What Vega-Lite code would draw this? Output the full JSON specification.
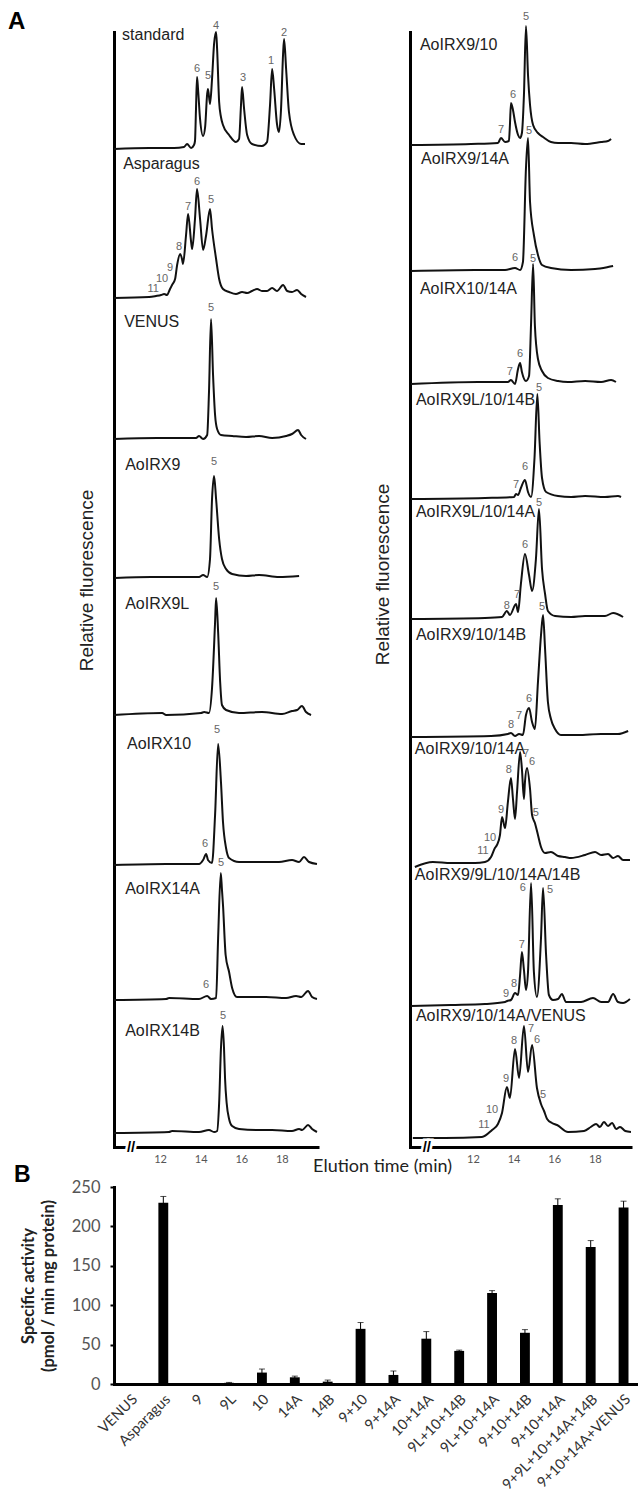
{
"$schema":"https://vega.github.io/schema/vega-lite/v6.json",
"background":"white",
"padding":{"left":8,"top":9,"right":0,"bottom":0},
"config":{"view":{"stroke":null},"font":"Liberation Sans","axis":{"grid":false}},
"datasets":{
"tr":[
{"s":"standard","t":9.73,"v":0},{"s":"standard","t":11.46,"v":1},{"s":"standard","t":12.69,"v":1},{"s":"standard","t":13.18,"v":2},{"s":"standard","t":13.33,"v":5},{"s":"standard","t":13.53,"v":1},{"s":"standard","t":13.67,"v":4},{"s":"standard","t":13.72,"v":8},{"s":"standard","t":13.77,"v":40},{"s":"standard","t":13.82,"v":72},{"s":"standard","t":13.87,"v":60},{"s":"standard","t":13.97,"v":30},{"s":"standard","t":14.12,"v":13},{"s":"standard","t":14.22,"v":22},{"s":"standard","t":14.32,"v":55},{"s":"standard","t":14.36,"v":60},{"s":"standard","t":14.46,"v":45},{"s":"standard","t":14.56,"v":70},{"s":"standard","t":14.66,"v":105},{"s":"standard","t":14.76,"v":117},{"s":"standard","t":14.81,"v":100},{"s":"standard","t":14.91,"v":47},{"s":"standard","t":15.0,"v":32},{"s":"standard","t":15.1,"v":24},{"s":"standard","t":15.4,"v":14},{"s":"standard","t":15.74,"v":7},{"s":"standard","t":15.89,"v":10},{"s":"standard","t":15.99,"v":45},{"s":"standard","t":16.04,"v":62},{"s":"standard","t":16.14,"v":40},{"s":"standard","t":16.29,"v":14},{"s":"standard","t":16.53,"v":5},{"s":"standard","t":17.02,"v":3},{"s":"standard","t":17.27,"v":7},{"s":"standard","t":17.42,"v":45},{"s":"standard","t":17.52,"v":80},{"s":"standard","t":17.62,"v":60},{"s":"standard","t":17.76,"v":25},{"s":"standard","t":17.86,"v":17},{"s":"standard","t":17.96,"v":40},{"s":"standard","t":18.06,"v":95},{"s":"standard","t":18.11,"v":110},{"s":"standard","t":18.21,"v":80},{"s":"standard","t":18.35,"v":37},{"s":"standard","t":18.6,"v":14},{"s":"standard","t":18.95,"v":5},{"s":"standard","t":19.14,"v":5},
{"s":"Asparagus","t":9.73,"v":0},{"s":"Asparagus","t":11.46,"v":1},{"s":"Asparagus","t":11.8,"v":2},{"s":"Asparagus","t":12.05,"v":3},{"s":"Asparagus","t":12.2,"v":4},{"s":"Asparagus","t":12.34,"v":3},{"s":"Asparagus","t":12.49,"v":9},{"s":"Asparagus","t":12.59,"v":13},{"s":"Asparagus","t":12.74,"v":19},{"s":"Asparagus","t":12.84,"v":33},{"s":"Asparagus","t":12.99,"v":44},{"s":"Asparagus","t":13.08,"v":39},{"s":"Asparagus","t":13.13,"v":34},{"s":"Asparagus","t":13.28,"v":63},{"s":"Asparagus","t":13.38,"v":84},{"s":"Asparagus","t":13.53,"v":56},{"s":"Asparagus","t":13.58,"v":49},{"s":"Asparagus","t":13.72,"v":79},{"s":"Asparagus","t":13.82,"v":109},{"s":"Asparagus","t":13.97,"v":79},{"s":"Asparagus","t":14.12,"v":48},{"s":"Asparagus","t":14.27,"v":63},{"s":"Asparagus","t":14.46,"v":89},{"s":"Asparagus","t":14.56,"v":69},{"s":"Asparagus","t":14.76,"v":39},{"s":"Asparagus","t":14.91,"v":19},{"s":"Asparagus","t":15.1,"v":9},{"s":"Asparagus","t":15.4,"v":6},{"s":"Asparagus","t":15.74,"v":4},{"s":"Asparagus","t":16.04,"v":6},{"s":"Asparagus","t":16.29,"v":5},{"s":"Asparagus","t":16.53,"v":7},{"s":"Asparagus","t":16.78,"v":9},{"s":"Asparagus","t":17.02,"v":7},{"s":"Asparagus","t":17.27,"v":7},{"s":"Asparagus","t":17.52,"v":10},{"s":"Asparagus","t":17.76,"v":7},{"s":"Asparagus","t":18.06,"v":13},{"s":"Asparagus","t":18.26,"v":7},{"s":"Asparagus","t":18.5,"v":6},{"s":"Asparagus","t":18.75,"v":8},{"s":"Asparagus","t":18.95,"v":4},{"s":"Asparagus","t":19.19,"v":1},
{"s":"VENUS","t":9.73,"v":0},{"s":"VENUS","t":11.85,"v":1},{"s":"VENUS","t":13.77,"v":1},{"s":"VENUS","t":13.92,"v":3},{"s":"VENUS","t":14.12,"v":0},{"s":"VENUS","t":14.32,"v":4},{"s":"VENUS","t":14.41,"v":47},{"s":"VENUS","t":14.51,"v":120},{"s":"VENUS","t":14.61,"v":64},{"s":"VENUS","t":14.71,"v":24},{"s":"VENUS","t":14.81,"v":10},{"s":"VENUS","t":15.0,"v":4},{"s":"VENUS","t":15.55,"v":3},{"s":"VENUS","t":16.24,"v":2},{"s":"VENUS","t":16.88,"v":3},{"s":"VENUS","t":17.52,"v":1},{"s":"VENUS","t":18.21,"v":3},{"s":"VENUS","t":18.5,"v":5},{"s":"VENUS","t":18.8,"v":9},{"s":"VENUS","t":18.95,"v":4},{"s":"VENUS","t":19.19,"v":0},
{"s":"AoIRX9","t":9.78,"v":0},{"s":"AoIRX9","t":11.56,"v":1},{"s":"AoIRX9","t":13.92,"v":1},{"s":"AoIRX9","t":14.12,"v":3},{"s":"AoIRX9","t":14.32,"v":1},{"s":"AoIRX9","t":14.46,"v":19},{"s":"AoIRX9","t":14.56,"v":79},{"s":"AoIRX9","t":14.66,"v":102},{"s":"AoIRX9","t":14.76,"v":79},{"s":"AoIRX9","t":14.91,"v":39},{"s":"AoIRX9","t":15.05,"v":19},{"s":"AoIRX9","t":15.25,"v":9},{"s":"AoIRX9","t":15.55,"v":4},{"s":"AoIRX9","t":16.24,"v":2},{"s":"AoIRX9","t":16.88,"v":3},{"s":"AoIRX9","t":17.86,"v":1},{"s":"AoIRX9","t":18.85,"v":2},
{"s":"AoIRX9L","t":9.73,"v":0},{"s":"AoIRX9L","t":12.1,"v":2},{"s":"AoIRX9L","t":12.3,"v":0},{"s":"AoIRX9L","t":14.02,"v":2},{"s":"AoIRX9L","t":14.17,"v":3},{"s":"AoIRX9L","t":14.41,"v":2},{"s":"AoIRX9L","t":14.56,"v":27},{"s":"AoIRX9L","t":14.71,"v":93},{"s":"AoIRX9L","t":14.76,"v":117},{"s":"AoIRX9L","t":14.86,"v":83},{"s":"AoIRX9L","t":14.96,"v":33},{"s":"AoIRX9L","t":15.05,"v":10},{"s":"AoIRX9L","t":15.25,"v":5},{"s":"AoIRX9L","t":15.89,"v":2},{"s":"AoIRX9L","t":17.02,"v":3},{"s":"AoIRX9L","t":18.01,"v":1},{"s":"AoIRX9L","t":18.5,"v":4},{"s":"AoIRX9L","t":18.75,"v":5},{"s":"AoIRX9L","t":18.99,"v":9},{"s":"AoIRX9L","t":19.19,"v":3},{"s":"AoIRX9L","t":19.44,"v":0},
{"s":"AoIRX10","t":9.73,"v":0},{"s":"AoIRX10","t":12.3,"v":1},{"s":"AoIRX10","t":13.92,"v":1},{"s":"AoIRX10","t":14.12,"v":5},{"s":"AoIRX10","t":14.27,"v":11},{"s":"AoIRX10","t":14.36,"v":5},{"s":"AoIRX10","t":14.56,"v":2},{"s":"AoIRX10","t":14.71,"v":50},{"s":"AoIRX10","t":14.86,"v":121},{"s":"AoIRX10","t":15.0,"v":83},{"s":"AoIRX10","t":15.1,"v":43},{"s":"AoIRX10","t":15.25,"v":17},{"s":"AoIRX10","t":15.4,"v":7},{"s":"AoIRX10","t":15.89,"v":3},{"s":"AoIRX10","t":16.88,"v":3},{"s":"AoIRX10","t":17.86,"v":3},{"s":"AoIRX10","t":18.5,"v":5},{"s":"AoIRX10","t":18.85,"v":3},{"s":"AoIRX10","t":19.09,"v":8},{"s":"AoIRX10","t":19.34,"v":3},{"s":"AoIRX10","t":19.73,"v":1},
{"s":"AoIRX14A","t":9.73,"v":0},{"s":"AoIRX14A","t":12.3,"v":1},{"s":"AoIRX14A","t":12.44,"v":2},{"s":"AoIRX14A","t":13.92,"v":1},{"s":"AoIRX14A","t":14.32,"v":4},{"s":"AoIRX14A","t":14.51,"v":1},{"s":"AoIRX14A","t":14.76,"v":2},{"s":"AoIRX14A","t":14.86,"v":62},{"s":"AoIRX14A","t":14.99,"v":127},{"s":"AoIRX14A","t":15.05,"v":110},{"s":"AoIRX14A","t":15.1,"v":95},{"s":"AoIRX14A","t":15.23,"v":45},{"s":"AoIRX14A","t":15.4,"v":28},{"s":"AoIRX14A","t":15.55,"v":12},{"s":"AoIRX14A","t":15.79,"v":3},{"s":"AoIRX14A","t":16.53,"v":3},{"s":"AoIRX14A","t":17.22,"v":3},{"s":"AoIRX14A","t":18.21,"v":2},{"s":"AoIRX14A","t":18.7,"v":4},{"s":"AoIRX14A","t":18.95,"v":3},{"s":"AoIRX14A","t":19.29,"v":9},{"s":"AoIRX14A","t":19.49,"v":3},{"s":"AoIRX14A","t":19.73,"v":1},
{"s":"AoIRX14B","t":9.73,"v":0},{"s":"AoIRX14B","t":12.44,"v":1},{"s":"AoIRX14B","t":12.59,"v":2},{"s":"AoIRX14B","t":13.92,"v":1},{"s":"AoIRX14B","t":14.41,"v":3},{"s":"AoIRX14B","t":14.66,"v":1},{"s":"AoIRX14B","t":14.81,"v":2},{"s":"AoIRX14B","t":14.91,"v":30},{"s":"AoIRX14B","t":15.0,"v":85},{"s":"AoIRX14B","t":15.08,"v":107},{"s":"AoIRX14B","t":15.15,"v":85},{"s":"AoIRX14B","t":15.2,"v":55},{"s":"AoIRX14B","t":15.28,"v":30},{"s":"AoIRX14B","t":15.4,"v":14},{"s":"AoIRX14B","t":15.55,"v":7},{"s":"AoIRX14B","t":15.89,"v":4},{"s":"AoIRX14B","t":16.73,"v":3},{"s":"AoIRX14B","t":17.52,"v":3},{"s":"AoIRX14B","t":18.5,"v":2},{"s":"AoIRX14B","t":18.85,"v":4},{"s":"AoIRX14B","t":19.0,"v":3},{"s":"AoIRX14B","t":19.29,"v":8},{"s":"AoIRX14B","t":19.49,"v":4},{"s":"AoIRX14B","t":19.73,"v":1},
{"s":"AoIRX9/10","t":8.95,"v":0},{"s":"AoIRX9/10","t":11.9,"v":1},{"s":"AoIRX9/10","t":13.23,"v":2},{"s":"AoIRX9/10","t":13.38,"v":7},{"s":"AoIRX9/10","t":13.58,"v":3},{"s":"AoIRX9/10","t":13.77,"v":4},{"s":"AoIRX9/10","t":13.82,"v":20},{"s":"AoIRX9/10","t":13.87,"v":42},{"s":"AoIRX9/10","t":13.97,"v":35},{"s":"AoIRX9/10","t":14.07,"v":23},{"s":"AoIRX9/10","t":14.22,"v":10},{"s":"AoIRX9/10","t":14.32,"v":7},{"s":"AoIRX9/10","t":14.41,"v":12},{"s":"AoIRX9/10","t":14.51,"v":50},{"s":"AoIRX9/10","t":14.61,"v":119},{"s":"AoIRX9/10","t":14.71,"v":70},{"s":"AoIRX9/10","t":14.81,"v":40},{"s":"AoIRX9/10","t":14.96,"v":20},{"s":"AoIRX9/10","t":15.2,"v":12},{"s":"AoIRX9/10","t":15.45,"v":8},{"s":"AoIRX9/10","t":15.84,"v":3},{"s":"AoIRX9/10","t":16.19,"v":2},{"s":"AoIRX9/10","t":16.83,"v":2},{"s":"AoIRX9/10","t":17.52,"v":1},{"s":"AoIRX9/10","t":18.31,"v":3},{"s":"AoIRX9/10","t":18.65,"v":4},{"s":"AoIRX9/10","t":18.8,"v":6},
{"s":"AoIRX9/14A","t":8.95,"v":0},{"s":"AoIRX9/14A","t":12.1,"v":1},{"s":"AoIRX9/14A","t":13.58,"v":1},{"s":"AoIRX9/14A","t":14.07,"v":3},{"s":"AoIRX9/14A","t":14.32,"v":1},{"s":"AoIRX9/14A","t":14.46,"v":9},{"s":"AoIRX9/14A","t":14.61,"v":103},{"s":"AoIRX9/14A","t":14.71,"v":133},{"s":"AoIRX9/14A","t":14.81,"v":69},{"s":"AoIRX9/14A","t":15.0,"v":36},{"s":"AoIRX9/14A","t":15.2,"v":16},{"s":"AoIRX9/14A","t":15.4,"v":6},{"s":"AoIRX9/14A","t":15.84,"v":3},{"s":"AoIRX9/14A","t":16.83,"v":1},{"s":"AoIRX9/14A","t":18.01,"v":2},{"s":"AoIRX9/14A","t":18.65,"v":4},{"s":"AoIRX9/14A","t":18.9,"v":5},
{"s":"AoIRX10/14A","t":8.95,"v":0},{"s":"AoIRX10/14A","t":12.25,"v":2},{"s":"AoIRX10/14A","t":13.72,"v":2},{"s":"AoIRX10/14A","t":13.87,"v":4},{"s":"AoIRX10/14A","t":14.07,"v":0},{"s":"AoIRX10/14A","t":14.22,"v":15},{"s":"AoIRX10/14A","t":14.32,"v":21},{"s":"AoIRX10/14A","t":14.41,"v":12},{"s":"AoIRX10/14A","t":14.61,"v":3},{"s":"AoIRX10/14A","t":14.76,"v":8},{"s":"AoIRX10/14A","t":14.86,"v":60},{"s":"AoIRX10/14A","t":14.96,"v":120},{"s":"AoIRX10/14A","t":15.05,"v":58},{"s":"AoIRX10/14A","t":15.2,"v":25},{"s":"AoIRX10/14A","t":15.4,"v":13},{"s":"AoIRX10/14A","t":15.69,"v":6},{"s":"AoIRX10/14A","t":16.19,"v":3},{"s":"AoIRX10/14A","t":16.68,"v":2},{"s":"AoIRX10/14A","t":17.52,"v":3},{"s":"AoIRX10/14A","t":18.31,"v":2},{"s":"AoIRX10/14A","t":18.8,"v":4},{"s":"AoIRX10/14A","t":19.04,"v":2},
{"s":"AoIRX9L/10/14B","t":8.95,"v":0},{"s":"AoIRX9L/10/14B","t":12.59,"v":1},{"s":"AoIRX9L/10/14B","t":14.02,"v":2},{"s":"AoIRX9L/10/14B","t":14.12,"v":5},{"s":"AoIRX9L/10/14B","t":14.22,"v":4},{"s":"AoIRX9L/10/14B","t":14.36,"v":11},{"s":"AoIRX9L/10/14B","t":14.56,"v":19},{"s":"AoIRX9L/10/14B","t":14.71,"v":7},{"s":"AoIRX9L/10/14B","t":14.86,"v":2},{"s":"AoIRX9L/10/14B","t":15.03,"v":41},{"s":"AoIRX9L/10/14B","t":15.17,"v":105},{"s":"AoIRX9L/10/14B","t":15.28,"v":57},{"s":"AoIRX9L/10/14B","t":15.4,"v":21},{"s":"AoIRX9L/10/14B","t":15.6,"v":7},{"s":"AoIRX9L/10/14B","t":16.19,"v":3},{"s":"AoIRX9L/10/14B","t":16.83,"v":2},{"s":"AoIRX9L/10/14B","t":17.52,"v":3},{"s":"AoIRX9L/10/14B","t":18.5,"v":2},{"s":"AoIRX9L/10/14B","t":19.14,"v":3},{"s":"AoIRX9L/10/14B","t":19.29,"v":2},
{"s":"AoIRX9L/10/14A","t":8.95,"v":0},{"s":"AoIRX9L/10/14A","t":12.59,"v":1},{"s":"AoIRX9L/10/14A","t":13.43,"v":2},{"s":"AoIRX9L/10/14A","t":13.67,"v":8},{"s":"AoIRX9L/10/14A","t":13.82,"v":4},{"s":"AoIRX9L/10/14A","t":14.12,"v":15},{"s":"AoIRX9L/10/14A","t":14.22,"v":7},{"s":"AoIRX9L/10/14A","t":14.36,"v":35},{"s":"AoIRX9L/10/14A","t":14.56,"v":65},{"s":"AoIRX9L/10/14A","t":14.76,"v":44},{"s":"AoIRX9L/10/14A","t":14.91,"v":28},{"s":"AoIRX9L/10/14A","t":15.1,"v":60},{"s":"AoIRX9L/10/14A","t":15.25,"v":110},{"s":"AoIRX9L/10/14A","t":15.4,"v":50},{"s":"AoIRX9L/10/14A","t":15.55,"v":25},{"s":"AoIRX9L/10/14A","t":15.69,"v":8},{"s":"AoIRX9L/10/14A","t":16.04,"v":3},{"s":"AoIRX9L/10/14A","t":16.83,"v":2},{"s":"AoIRX9L/10/14A","t":17.52,"v":3},{"s":"AoIRX9L/10/14A","t":18.5,"v":3},{"s":"AoIRX9L/10/14A","t":18.9,"v":6},{"s":"AoIRX9L/10/14A","t":19.39,"v":2},
{"s":"AoIRX9/10/14B","t":8.95,"v":0},{"s":"AoIRX9/10/14B","t":12.89,"v":1},{"s":"AoIRX9/10/14B","t":13.72,"v":3},{"s":"AoIRX9/10/14B","t":13.87,"v":4},{"s":"AoIRX9/10/14B","t":14.07,"v":1},{"s":"AoIRX9/10/14B","t":14.27,"v":3},{"s":"AoIRX9/10/14B","t":14.46,"v":2},{"s":"AoIRX9/10/14B","t":14.61,"v":22},{"s":"AoIRX9/10/14B","t":14.76,"v":29},{"s":"AoIRX9/10/14B","t":14.91,"v":15},{"s":"AoIRX9/10/14B","t":15.05,"v":8},{"s":"AoIRX9/10/14B","t":15.2,"v":55},{"s":"AoIRX9/10/14B","t":15.35,"v":102},{"s":"AoIRX9/10/14B","t":15.45,"v":122},{"s":"AoIRX9/10/14B","t":15.55,"v":88},{"s":"AoIRX9/10/14B","t":15.69,"v":35},{"s":"AoIRX9/10/14B","t":15.84,"v":18},{"s":"AoIRX9/10/14B","t":16.04,"v":8},{"s":"AoIRX9/10/14B","t":16.33,"v":2},{"s":"AoIRX9/10/14B","t":17.17,"v":2},{"s":"AoIRX9/10/14B","t":18.31,"v":3},{"s":"AoIRX9/10/14B","t":19.14,"v":3},{"s":"AoIRX9/10/14B","t":19.64,"v":6},
{"s":"AoIRX9/10/14A","t":9.14,"v":-7},{"s":"AoIRX9/10/14A","t":10.03,"v":-2},{"s":"AoIRX9/10/14A","t":10.92,"v":-3},{"s":"AoIRX9/10/14A","t":12.1,"v":-3},{"s":"AoIRX9/10/14A","t":12.59,"v":-2},{"s":"AoIRX9/10/14A","t":12.89,"v":3},{"s":"AoIRX9/10/14A","t":13.08,"v":12},{"s":"AoIRX9/10/14A","t":13.18,"v":15},{"s":"AoIRX9/10/14A","t":13.33,"v":25},{"s":"AoIRX9/10/14A","t":13.43,"v":43},{"s":"AoIRX9/10/14A","t":13.58,"v":32},{"s":"AoIRX9/10/14A","t":13.72,"v":58},{"s":"AoIRX9/10/14A","t":13.87,"v":82},{"s":"AoIRX9/10/14A","t":13.97,"v":61},{"s":"AoIRX9/10/14A","t":14.07,"v":41},{"s":"AoIRX9/10/14A","t":14.17,"v":68},{"s":"AoIRX9/10/14A","t":14.32,"v":108},{"s":"AoIRX9/10/14A","t":14.41,"v":91},{"s":"AoIRX9/10/14A","t":14.51,"v":61},{"s":"AoIRX9/10/14A","t":14.56,"v":78},{"s":"AoIRX9/10/14A","t":14.66,"v":92},{"s":"AoIRX9/10/14A","t":14.81,"v":71},{"s":"AoIRX9/10/14A","t":14.91,"v":45},{"s":"AoIRX9/10/14A","t":15.05,"v":37},{"s":"AoIRX9/10/14A","t":15.2,"v":25},{"s":"AoIRX9/10/14A","t":15.35,"v":13},{"s":"AoIRX9/10/14A","t":15.55,"v":7},{"s":"AoIRX9/10/14A","t":15.84,"v":8},{"s":"AoIRX9/10/14A","t":16.19,"v":4},{"s":"AoIRX9/10/14A","t":16.53,"v":3},{"s":"AoIRX9/10/14A","t":16.83,"v":2},{"s":"AoIRX9/10/14A","t":17.52,"v":5},{"s":"AoIRX9/10/14A","t":18.01,"v":8},{"s":"AoIRX9/10/14A","t":18.31,"v":5},{"s":"AoIRX9/10/14A","t":18.65,"v":6},{"s":"AoIRX9/10/14A","t":18.9,"v":2},{"s":"AoIRX9/10/14A","t":19.14,"v":4},{"s":"AoIRX9/10/14A","t":19.39,"v":0},{"s":"AoIRX9/10/14A","t":19.73,"v":0},
{"s":"AoIRX9/9L/10/14A/14B","t":8.95,"v":-1},{"s":"AoIRX9/9L/10/14A/14B","t":10.92,"v":0},{"s":"AoIRX9/9L/10/14A/14B","t":12.59,"v":1},{"s":"AoIRX9/9L/10/14A/14B","t":13.58,"v":3},{"s":"AoIRX9/9L/10/14A/14B","t":13.68,"v":4},{"s":"AoIRX9/9L/10/14A/14B","t":13.87,"v":5},{"s":"AoIRX9/9L/10/14A/14B","t":14.07,"v":12},{"s":"AoIRX9/9L/10/14A/14B","t":14.22,"v":10},{"s":"AoIRX9/9L/10/14A/14B","t":14.32,"v":30},{"s":"AoIRX9/9L/10/14A/14B","t":14.41,"v":53},{"s":"AoIRX9/9L/10/14A/14B","t":14.51,"v":35},{"s":"AoIRX9/9L/10/14A/14B","t":14.61,"v":15},{"s":"AoIRX9/9L/10/14A/14B","t":14.71,"v":33},{"s":"AoIRX9/9L/10/14A/14B","t":14.86,"v":122},{"s":"AoIRX9/9L/10/14A/14B","t":15.0,"v":33},{"s":"AoIRX9/9L/10/14A/14B","t":15.15,"v":8},{"s":"AoIRX9/9L/10/14A/14B","t":15.35,"v":67},{"s":"AoIRX9/9L/10/14A/14B","t":15.45,"v":117},{"s":"AoIRX9/9L/10/14A/14B","t":15.6,"v":50},{"s":"AoIRX9/9L/10/14A/14B","t":15.74,"v":10},{"s":"AoIRX9/9L/10/14A/14B","t":15.94,"v":5},{"s":"AoIRX9/9L/10/14A/14B","t":16.19,"v":6},{"s":"AoIRX9/9L/10/14A/14B","t":16.38,"v":11},{"s":"AoIRX9/9L/10/14A/14B","t":16.58,"v":3},{"s":"AoIRX9/9L/10/14A/14B","t":17.32,"v":3},{"s":"AoIRX9/9L/10/14A/14B","t":17.91,"v":7},{"s":"AoIRX9/9L/10/14A/14B","t":18.31,"v":3},{"s":"AoIRX9/9L/10/14A/14B","t":18.65,"v":3},{"s":"AoIRX9/9L/10/14A/14B","t":18.9,"v":11},{"s":"AoIRX9/9L/10/14A/14B","t":19.14,"v":3},{"s":"AoIRX9/9L/10/14A/14B","t":19.39,"v":2},{"s":"AoIRX9/9L/10/14A/14B","t":19.73,"v":6},
{"s":"AoIRX9/10/14A/VENUS","t":9.04,"v":-5},{"s":"AoIRX9/10/14A/VENUS","t":10.62,"v":-5},{"s":"AoIRX9/10/14A/VENUS","t":12.44,"v":-4},{"s":"AoIRX9/10/14A/VENUS","t":12.94,"v":3},{"s":"AoIRX9/10/14A/VENUS","t":13.23,"v":9},{"s":"AoIRX9/10/14A/VENUS","t":13.43,"v":20},{"s":"AoIRX9/10/14A/VENUS","t":13.67,"v":46},{"s":"AoIRX9/10/14A/VENUS","t":13.82,"v":35},{"s":"AoIRX9/10/14A/VENUS","t":14.07,"v":84},{"s":"AoIRX9/10/14A/VENUS","t":14.27,"v":55},{"s":"AoIRX9/10/14A/VENUS","t":14.51,"v":107},{"s":"AoIRX9/10/14A/VENUS","t":14.71,"v":61},{"s":"AoIRX9/10/14A/VENUS","t":14.91,"v":88},{"s":"AoIRX9/10/14A/VENUS","t":15.15,"v":45},{"s":"AoIRX9/10/14A/VENUS","t":15.35,"v":29},{"s":"AoIRX9/10/14A/VENUS","t":15.5,"v":22},{"s":"AoIRX9/10/14A/VENUS","t":15.65,"v":14},{"s":"AoIRX9/10/14A/VENUS","t":15.89,"v":10},{"s":"AoIRX9/10/14A/VENUS","t":16.14,"v":8},{"s":"AoIRX9/10/14A/VENUS","t":16.68,"v":1},{"s":"AoIRX9/10/14A/VENUS","t":17.47,"v":2},{"s":"AoIRX9/10/14A/VENUS","t":17.8,"v":6},{"s":"AoIRX9/10/14A/VENUS","t":18.06,"v":9},{"s":"AoIRX9/10/14A/VENUS","t":18.25,"v":6},{"s":"AoIRX9/10/14A/VENUS","t":18.45,"v":11},{"s":"AoIRX9/10/14A/VENUS","t":18.65,"v":7},{"s":"AoIRX9/10/14A/VENUS","t":18.85,"v":10},{"s":"AoIRX9/10/14A/VENUS","t":19.05,"v":4},{"s":"AoIRX9/10/14A/VENUS","t":19.24,"v":6},{"s":"AoIRX9/10/14A/VENUS","t":19.5,"v":2},{"s":"AoIRX9/10/14A/VENUS","t":19.78,"v":1}
],
"pk":[
{"s":"standard","t":13.82,"v":80,"n":"6"},{"s":"standard","t":14.36,"v":73,"n":"5"},{"s":"standard","t":14.76,"v":123,"n":"4"},{"s":"standard","t":16.09,"v":71,"n":"3"},{"s":"standard","t":17.47,"v":88,"n":"1"},{"s":"standard","t":18.11,"v":116,"n":"2"},
{"s":"Asparagus","t":11.66,"v":9,"n":"11"},{"s":"Asparagus","t":12.1,"v":19,"n":"10"},{"s":"Asparagus","t":12.49,"v":30,"n":"9"},{"s":"Asparagus","t":12.94,"v":51,"n":"8"},{"s":"Asparagus","t":13.38,"v":91,"n":"7"},{"s":"Asparagus","t":13.82,"v":116,"n":"6"},{"s":"Asparagus","t":14.51,"v":98,"n":"5"},
{"s":"VENUS","t":14.51,"v":131,"n":"5"},
{"s":"AoIRX9","t":14.66,"v":116,"n":"5"},
{"s":"AoIRX9L","t":14.76,"v":128,"n":"5"},
{"s":"AoIRX10","t":14.22,"v":21,"n":"6"},{"s":"AoIRX10","t":14.81,"v":135,"n":"5"},
{"s":"AoIRX14A","t":14.27,"v":15,"n":"6"},{"s":"AoIRX14A","t":15.0,"v":137,"n":"5"},
{"s":"AoIRX14B","t":15.1,"v":117,"n":"5"},
{"s":"AoIRX9/10","t":13.38,"v":15,"n":"7"},{"s":"AoIRX9/10","t":13.97,"v":50,"n":"6"},{"s":"AoIRX9/10","t":14.61,"v":128,"n":"5"},
{"s":"AoIRX9/14A","t":14.07,"v":13,"n":"6"},{"s":"AoIRX9/14A","t":14.76,"v":140,"n":"5"},
{"s":"AoIRX10/14A","t":13.82,"v":12,"n":"7"},{"s":"AoIRX10/14A","t":14.32,"v":30,"n":"6"},{"s":"AoIRX10/14A","t":14.96,"v":125,"n":"5"},
{"s":"AoIRX9L/10/14B","t":14.12,"v":14,"n":"7"},{"s":"AoIRX9L/10/14B","t":14.56,"v":32,"n":"6"},{"s":"AoIRX9L/10/14B","t":15.25,"v":111,"n":"5"},
{"s":"AoIRX9L/10/14A","t":13.67,"v":13,"n":"8"},{"s":"AoIRX9L/10/14A","t":14.17,"v":24,"n":"7"},{"s":"AoIRX9L/10/14A","t":14.56,"v":74,"n":"6"},{"s":"AoIRX9L/10/14A","t":15.25,"v":116,"n":"5"},
{"s":"AoIRX9/10/14B","t":13.87,"v":12,"n":"8"},{"s":"AoIRX9/10/14B","t":14.27,"v":21,"n":"7"},{"s":"AoIRX9/10/14B","t":14.76,"v":38,"n":"6"},{"s":"AoIRX9/10/14B","t":15.4,"v":130,"n":"5"},
{"s":"AoIRX9/10/14A","t":12.49,"v":9,"n":"11"},{"s":"AoIRX9/10/14A","t":12.84,"v":22,"n":"10"},{"s":"AoIRX9/10/14A","t":13.38,"v":50,"n":"9"},{"s":"AoIRX9/10/14A","t":13.77,"v":90,"n":"8"},{"s":"AoIRX9/10/14A","t":14.61,"v":106,"n":"7"},{"s":"AoIRX9/10/14A","t":14.91,"v":98,"n":"6"},{"s":"AoIRX9/10/14A","t":15.1,"v":47,"n":"5"},
{"s":"AoIRX9/9L/10/14A/14B","t":13.63,"v":11,"n":"9"},{"s":"AoIRX9/9L/10/14A/14B","t":14.02,"v":21,"n":"8"},{"s":"AoIRX9/9L/10/14A/14B","t":14.41,"v":60,"n":"7"},{"s":"AoIRX9/9L/10/14A/14B","t":14.46,"v":117,"n":"6"},{"s":"AoIRX9/9L/10/14A/14B","t":15.79,"v":115,"n":"5"},
{"s":"AoIRX9/10/14A/VENUS","t":12.54,"v":8,"n":"11"},{"s":"AoIRX9/10/14A/VENUS","t":12.94,"v":23,"n":"10"},{"s":"AoIRX9/10/14A/VENUS","t":13.63,"v":54,"n":"9"},{"s":"AoIRX9/10/14A/VENUS","t":14.02,"v":92,"n":"8"},{"s":"AoIRX9/10/14A/VENUS","t":14.86,"v":104,"n":"7"},{"s":"AoIRX9/10/14A/VENUS","t":15.15,"v":93,"n":"6"},{"s":"AoIRX9/10/14A/VENUS","t":15.45,"v":38,"n":"5"}
],
"nm":[
{"s":"standard","t":10.13,"v":114},{"s":"Asparagus","t":10.18,"v":134},{"s":"VENUS","t":10.23,"v":117},{"s":"AoIRX9","t":10.28,"v":113},{"s":"AoIRX9L","t":10.28,"v":111},{"s":"AoIRX10","t":10.37,"v":121},{"s":"AoIRX14A","t":10.28,"v":111},{"s":"AoIRX14B","t":10.28,"v":102},
{"s":"AoIRX9/10","t":9.39,"v":100},{"s":"AoIRX9/14A","t":9.44,"v":112},{"s":"AoIRX10/14A","t":9.39,"v":95},{"s":"AoIRX9L/10/14B","t":9.19,"v":99},{"s":"AoIRX9L/10/14A","t":9.19,"v":107},{"s":"AoIRX9/10/14B","t":9.19,"v":102},{"s":"AoIRX9/10/14A","t":9.14,"v":111},{"s":"AoIRX9/9L/10/14A/14B","t":9.14,"v":130},{"s":"AoIRX9/10/14A/VENUS","t":9.19,"v":117}
],
"brk":[{"c":"L","t":10.57,"v":-14},{"c":"R","t":9.73,"v":-14}],
"bars":[
{"cat":"VENUS","val":0,"lo":0,"hi":0},{"cat":"Asparagus","val":230,"lo":222,"hi":238},{"cat":"9","val":0,"lo":0,"hi":0},{"cat":"9L","val":1.5,"lo":1,"hi":2},{"cat":"10","val":14.5,"lo":10,"hi":19},{"cat":"14A","val":8.5,"lo":7,"hi":10},{"cat":"14B","val":3,"lo":1,"hi":5},{"cat":"9+10","val":70,"lo":62,"hi":78},{"cat":"9+14A","val":11.5,"lo":6.5,"hi":16.5},{"cat":"10+14A","val":57.5,"lo":48.5,"hi":66.5},{"cat":"9L+10+14B","val":42,"lo":41,"hi":43},{"cat":"9L+10+14A","val":115.5,"lo":112.5,"hi":118.5},{"cat":"9+10+14B","val":65,"lo":61,"hi":69},{"cat":"9+10+14A","val":227,"lo":219,"hi":235},{"cat":"9+9L+10+14A+14B","val":174,"lo":166,"hi":182},{"cat":"9+10+14A+VENUS","val":224,"lo":216,"hi":232}
]
},
"vconcat":[
{"hconcat":[
{"width":205,"height":1115,
"title":{"text":"A","anchor":"start","frame":"group","dx":-106,"offset":-14,"fontSize":24,"fontWeight":"bold","font":"Liberation Sans","color":"#000"},
"encoding":{"x":{"field":"t","type":"quantitative","scale":{"domain":[9.73,19.83],"nice":false,"zero":false},"axis":{"values":[12,14,16,18],"ticks":false,"tickSize":0,"domainWidth":3,"domainColor":"#000","labelFont":"Lato","labelFontSize":11,"labelColor":"#555","labelPadding":6,"title":null,"grid":false}}},
"resolve":{"scale":{"y":"independent"}},
"layer":[
{"layer":[
{"data":{"name":"tr"},"transform":[{"filter":"datum.s==='standard'"}],"mark":{"type":"line","color":"#111","strokeWidth":2,"interpolate":"monotone"},"encoding":{"y":{"field":"v","type":"quantitative","scale":{"domain":[-998,117],"nice":false,"zero":false},"axis":{"domain":true,"domainWidth":3,"domainColor":"#000","domainCap":"square","labels":false,"ticks":false,"tickSize":0,"grid":false,"title":"Relative fluorescence","titleFont":"Liberation Sans","titleFontSize":19,"titleFontWeight":"normal","titleColor":"#222","titlePadding":18,"titleY":548}}}},
{"data":{"name":"pk"},"transform":[{"filter":"datum.s==='standard'"}],"mark":{"type":"text","font":"Liberation Sans","fontSize":11,"color":"#666"},"encoding":{"y":{"field":"v","type":"quantitative","scale":{"domain":[-998,117],"nice":false,"zero":false},"axis":{"domain":true,"domainWidth":3,"domainColor":"#000","domainCap":"square","labels":false,"ticks":false,"tickSize":0,"grid":false,"title":"Relative fluorescence","titleFont":"Liberation Sans","titleFontSize":19,"titleFontWeight":"normal","titleColor":"#222","titlePadding":18,"titleY":548}},"text":{"field":"n","type":"nominal"}}},
{"data":{"name":"nm"},"transform":[{"filter":"datum.s==='standard'"}],"mark":{"type":"text","font":"Liberation Sans","fontSize":16,"color":"#222","align":"left"},"encoding":{"y":{"field":"v","type":"quantitative","scale":{"domain":[-998,117],"nice":false,"zero":false},"axis":{"domain":true,"domainWidth":3,"domainColor":"#000","domainCap":"square","labels":false,"ticks":false,"tickSize":0,"grid":false,"title":"Relative fluorescence","titleFont":"Liberation Sans","titleFontSize":19,"titleFontWeight":"normal","titleColor":"#222","titlePadding":18,"titleY":548}},"text":{"field":"s","type":"nominal"}}}
]},
{"layer":[
{"data":{"name":"tr"},"transform":[{"filter":"datum.s==='Asparagus'"}],"mark":{"type":"line","color":"#111","strokeWidth":2,"interpolate":"monotone"},"encoding":{"y":{"field":"v","type":"quantitative","scale":{"domain":[-849,266],"nice":false,"zero":false},"axis":null}}},
{"data":{"name":"pk"},"transform":[{"filter":"datum.s==='Asparagus'"}],"mark":{"type":"text","font":"Liberation Sans","fontSize":11,"color":"#666"},"encoding":{"y":{"field":"v","type":"quantitative","scale":{"domain":[-849,266],"nice":false,"zero":false},"axis":null},"text":{"field":"n","type":"nominal"}}},
{"data":{"name":"nm"},"transform":[{"filter":"datum.s==='Asparagus'"}],"mark":{"type":"text","font":"Liberation Sans","fontSize":16,"color":"#222","align":"left"},"encoding":{"y":{"field":"v","type":"quantitative","scale":{"domain":[-849,266],"nice":false,"zero":false},"axis":null},"text":{"field":"s","type":"nominal"}}}
]},
{"layer":[
{"data":{"name":"tr"},"transform":[{"filter":"datum.s==='VENUS'"}],"mark":{"type":"line","color":"#111","strokeWidth":2,"interpolate":"monotone"},"encoding":{"y":{"field":"v","type":"quantitative","scale":{"domain":[-708,407],"nice":false,"zero":false},"axis":null}}},
{"data":{"name":"pk"},"transform":[{"filter":"datum.s==='VENUS'"}],"mark":{"type":"text","font":"Liberation Sans","fontSize":11,"color":"#666"},"encoding":{"y":{"field":"v","type":"quantitative","scale":{"domain":[-708,407],"nice":false,"zero":false},"axis":null},"text":{"field":"n","type":"nominal"}}},
{"data":{"name":"nm"},"transform":[{"filter":"datum.s==='VENUS'"}],"mark":{"type":"text","font":"Liberation Sans","fontSize":16,"color":"#222","align":"left"},"encoding":{"y":{"field":"v","type":"quantitative","scale":{"domain":[-708,407],"nice":false,"zero":false},"axis":null},"text":{"field":"s","type":"nominal"}}}
]},
{"layer":[
{"data":{"name":"tr"},"transform":[{"filter":"datum.s==='AoIRX9'"}],"mark":{"type":"line","color":"#111","strokeWidth":2,"interpolate":"monotone"},"encoding":{"y":{"field":"v","type":"quantitative","scale":{"domain":[-569,546],"nice":false,"zero":false},"axis":null}}},
{"data":{"name":"pk"},"transform":[{"filter":"datum.s==='AoIRX9'"}],"mark":{"type":"text","font":"Liberation Sans","fontSize":11,"color":"#666"},"encoding":{"y":{"field":"v","type":"quantitative","scale":{"domain":[-569,546],"nice":false,"zero":false},"axis":null},"text":{"field":"n","type":"nominal"}}},
{"data":{"name":"nm"},"transform":[{"filter":"datum.s==='AoIRX9'"}],"mark":{"type":"text","font":"Liberation Sans","fontSize":16,"color":"#222","align":"left"},"encoding":{"y":{"field":"v","type":"quantitative","scale":{"domain":[-569,546],"nice":false,"zero":false},"axis":null},"text":{"field":"s","type":"nominal"}}}
]},
{"layer":[
{"data":{"name":"tr"},"transform":[{"filter":"datum.s==='AoIRX9L'"}],"mark":{"type":"line","color":"#111","strokeWidth":2,"interpolate":"monotone"},"encoding":{"y":{"field":"v","type":"quantitative","scale":{"domain":[-432,683],"nice":false,"zero":false},"axis":null}}},
{"data":{"name":"pk"},"transform":[{"filter":"datum.s==='AoIRX9L'"}],"mark":{"type":"text","font":"Liberation Sans","fontSize":11,"color":"#666"},"encoding":{"y":{"field":"v","type":"quantitative","scale":{"domain":[-432,683],"nice":false,"zero":false},"axis":null},"text":{"field":"n","type":"nominal"}}},
{"data":{"name":"nm"},"transform":[{"filter":"datum.s==='AoIRX9L'"}],"mark":{"type":"text","font":"Liberation Sans","fontSize":16,"color":"#222","align":"left"},"encoding":{"y":{"field":"v","type":"quantitative","scale":{"domain":[-432,683],"nice":false,"zero":false},"axis":null},"text":{"field":"s","type":"nominal"}}}
]},
{"layer":[
{"data":{"name":"tr"},"transform":[{"filter":"datum.s==='AoIRX10'"}],"mark":{"type":"line","color":"#111","strokeWidth":2,"interpolate":"monotone"},"encoding":{"y":{"field":"v","type":"quantitative","scale":{"domain":[-282,833],"nice":false,"zero":false},"axis":null}}},
{"data":{"name":"pk"},"transform":[{"filter":"datum.s==='AoIRX10'"}],"mark":{"type":"text","font":"Liberation Sans","fontSize":11,"color":"#666"},"encoding":{"y":{"field":"v","type":"quantitative","scale":{"domain":[-282,833],"nice":false,"zero":false},"axis":null},"text":{"field":"n","type":"nominal"}}},
{"data":{"name":"nm"},"transform":[{"filter":"datum.s==='AoIRX10'"}],"mark":{"type":"text","font":"Liberation Sans","fontSize":16,"color":"#222","align":"left"},"encoding":{"y":{"field":"v","type":"quantitative","scale":{"domain":[-282,833],"nice":false,"zero":false},"axis":null},"text":{"field":"s","type":"nominal"}}}
]},
{"layer":[
{"data":{"name":"tr"},"transform":[{"filter":"datum.s==='AoIRX14A'"}],"mark":{"type":"line","color":"#111","strokeWidth":2,"interpolate":"monotone"},"encoding":{"y":{"field":"v","type":"quantitative","scale":{"domain":[-147,968],"nice":false,"zero":false},"axis":null}}},
{"data":{"name":"pk"},"transform":[{"filter":"datum.s==='AoIRX14A'"}],"mark":{"type":"text","font":"Liberation Sans","fontSize":11,"color":"#666"},"encoding":{"y":{"field":"v","type":"quantitative","scale":{"domain":[-147,968],"nice":false,"zero":false},"axis":null},"text":{"field":"n","type":"nominal"}}},
{"data":{"name":"nm"},"transform":[{"filter":"datum.s==='AoIRX14A'"}],"mark":{"type":"text","font":"Liberation Sans","fontSize":16,"color":"#222","align":"left"},"encoding":{"y":{"field":"v","type":"quantitative","scale":{"domain":[-147,968],"nice":false,"zero":false},"axis":null},"text":{"field":"s","type":"nominal"}}}
]},
{"layer":[
{"data":{"name":"tr"},"transform":[{"filter":"datum.s==='AoIRX14B'"}],"mark":{"type":"line","color":"#111","strokeWidth":2,"interpolate":"monotone"},"encoding":{"y":{"field":"v","type":"quantitative","scale":{"domain":[-14,1101],"nice":false,"zero":false},"axis":null}}},
{"data":{"name":"pk"},"transform":[{"filter":"datum.s==='AoIRX14B'"}],"mark":{"type":"text","font":"Liberation Sans","fontSize":11,"color":"#666"},"encoding":{"y":{"field":"v","type":"quantitative","scale":{"domain":[-14,1101],"nice":false,"zero":false},"axis":null},"text":{"field":"n","type":"nominal"}}},
{"data":{"name":"nm"},"transform":[{"filter":"datum.s==='AoIRX14B'"}],"mark":{"type":"text","font":"Liberation Sans","fontSize":16,"color":"#222","align":"left"},"encoding":{"y":{"field":"v","type":"quantitative","scale":{"domain":[-14,1101],"nice":false,"zero":false},"axis":null},"text":{"field":"s","type":"nominal"}}},
{"data":{"name":"brk"},"transform":[{"filter":"datum.c==='L'"}],"mark":{"type":"text","text":"//","font":"Liberation Sans","fontSize":15,"fontWeight":"bold","color":"#fff","stroke":"#fff","strokeWidth":5},"encoding":{"y":{"field":"v","type":"quantitative","scale":{"domain":[-14,1101],"nice":false,"zero":false},"axis":null}}},
{"data":{"name":"brk"},"transform":[{"filter":"datum.c==='L'"}],"mark":{"type":"text","text":"//","font":"Liberation Sans","fontSize":15,"fontWeight":"bold","color":"#000"},"encoding":{"y":{"field":"v","type":"quantitative","scale":{"domain":[-14,1101],"nice":false,"zero":false},"axis":null}}}
]}
]},
{"width":222,"height":1115,
"encoding":{"x":{"field":"t","type":"quantitative","scale":{"domain":[8.9,19.83],"nice":false,"zero":false},"axis":{"values":[12,14,16,18],"ticks":false,"tickSize":0,"domainWidth":3,"domainColor":"#000","labelFont":"Lato","labelFontSize":11,"labelColor":"#555","labelPadding":6,"title":null,"grid":false}}},
"resolve":{"scale":{"y":"independent"}},
"layer":[
{"layer":[
{"data":{"name":"tr"},"transform":[{"filter":"datum.s==='AoIRX9/10'"}],"mark":{"type":"line","color":"#111","strokeWidth":2,"interpolate":"monotone"},"encoding":{"y":{"field":"v","type":"quantitative","scale":{"domain":[-1002,113],"nice":false,"zero":false},"axis":{"domain":true,"domainWidth":3,"domainColor":"#000","domainCap":"square","labels":false,"ticks":false,"tickSize":0,"grid":false,"title":"Relative fluorescence","titleFont":"Liberation Sans","titleFontSize":19,"titleFontWeight":"normal","titleColor":"#222","titlePadding":18,"titleY":542}}}},
{"data":{"name":"pk"},"transform":[{"filter":"datum.s==='AoIRX9/10'"}],"mark":{"type":"text","font":"Liberation Sans","fontSize":11,"color":"#666"},"encoding":{"y":{"field":"v","type":"quantitative","scale":{"domain":[-1002,113],"nice":false,"zero":false},"axis":{"domain":true,"domainWidth":3,"domainColor":"#000","domainCap":"square","labels":false,"ticks":false,"tickSize":0,"grid":false,"title":"Relative fluorescence","titleFont":"Liberation Sans","titleFontSize":19,"titleFontWeight":"normal","titleColor":"#222","titlePadding":18,"titleY":542}},"text":{"field":"n","type":"nominal"}}},
{"data":{"name":"nm"},"transform":[{"filter":"datum.s==='AoIRX9/10'"}],"mark":{"type":"text","font":"Liberation Sans","fontSize":16,"color":"#222","align":"left"},"encoding":{"y":{"field":"v","type":"quantitative","scale":{"domain":[-1002,113],"nice":false,"zero":false},"axis":{"domain":true,"domainWidth":3,"domainColor":"#000","domainCap":"square","labels":false,"ticks":false,"tickSize":0,"grid":false,"title":"Relative fluorescence","titleFont":"Liberation Sans","titleFontSize":19,"titleFontWeight":"normal","titleColor":"#222","titlePadding":18,"titleY":542}},"text":{"field":"s","type":"nominal"}}}
]},
{"layer":[
{"data":{"name":"tr"},"transform":[{"filter":"datum.s==='AoIRX9/14A'"}],"mark":{"type":"line","color":"#111","strokeWidth":2,"interpolate":"monotone"},"encoding":{"y":{"field":"v","type":"quantitative","scale":{"domain":[-876,239],"nice":false,"zero":false},"axis":null}}},
{"data":{"name":"pk"},"transform":[{"filter":"datum.s==='AoIRX9/14A'"}],"mark":{"type":"text","font":"Liberation Sans","fontSize":11,"color":"#666"},"encoding":{"y":{"field":"v","type":"quantitative","scale":{"domain":[-876,239],"nice":false,"zero":false},"axis":null},"text":{"field":"n","type":"nominal"}}},
{"data":{"name":"nm"},"transform":[{"filter":"datum.s==='AoIRX9/14A'"}],"mark":{"type":"text","font":"Liberation Sans","fontSize":16,"color":"#222","align":"left"},"encoding":{"y":{"field":"v","type":"quantitative","scale":{"domain":[-876,239],"nice":false,"zero":false},"axis":null},"text":{"field":"s","type":"nominal"}}}
]},
{"layer":[
{"data":{"name":"tr"},"transform":[{"filter":"datum.s==='AoIRX10/14A'"}],"mark":{"type":"line","color":"#111","strokeWidth":2,"interpolate":"monotone"},"encoding":{"y":{"field":"v","type":"quantitative","scale":{"domain":[-763,352],"nice":false,"zero":false},"axis":null}}},
{"data":{"name":"pk"},"transform":[{"filter":"datum.s==='AoIRX10/14A'"}],"mark":{"type":"text","font":"Liberation Sans","fontSize":11,"color":"#666"},"encoding":{"y":{"field":"v","type":"quantitative","scale":{"domain":[-763,352],"nice":false,"zero":false},"axis":null},"text":{"field":"n","type":"nominal"}}},
{"data":{"name":"nm"},"transform":[{"filter":"datum.s==='AoIRX10/14A'"}],"mark":{"type":"text","font":"Liberation Sans","fontSize":16,"color":"#222","align":"left"},"encoding":{"y":{"field":"v","type":"quantitative","scale":{"domain":[-763,352],"nice":false,"zero":false},"axis":null},"text":{"field":"s","type":"nominal"}}}
]},
{"layer":[
{"data":{"name":"tr"},"transform":[{"filter":"datum.s==='AoIRX9L/10/14B'"}],"mark":{"type":"line","color":"#111","strokeWidth":2,"interpolate":"monotone"},"encoding":{"y":{"field":"v","type":"quantitative","scale":{"domain":[-648,467],"nice":false,"zero":false},"axis":null}}},
{"data":{"name":"pk"},"transform":[{"filter":"datum.s==='AoIRX9L/10/14B'"}],"mark":{"type":"text","font":"Liberation Sans","fontSize":11,"color":"#666"},"encoding":{"y":{"field":"v","type":"quantitative","scale":{"domain":[-648,467],"nice":false,"zero":false},"axis":null},"text":{"field":"n","type":"nominal"}}},
{"data":{"name":"nm"},"transform":[{"filter":"datum.s==='AoIRX9L/10/14B'"}],"mark":{"type":"text","font":"Liberation Sans","fontSize":16,"color":"#222","align":"left"},"encoding":{"y":{"field":"v","type":"quantitative","scale":{"domain":[-648,467],"nice":false,"zero":false},"axis":null},"text":{"field":"s","type":"nominal"}}}
]},
{"layer":[
{"data":{"name":"tr"},"transform":[{"filter":"datum.s==='AoIRX9L/10/14A'"}],"mark":{"type":"line","color":"#111","strokeWidth":2,"interpolate":"monotone"},"encoding":{"y":{"field":"v","type":"quantitative","scale":{"domain":[-528,587],"nice":false,"zero":false},"axis":null}}},
{"data":{"name":"pk"},"transform":[{"filter":"datum.s==='AoIRX9L/10/14A'"}],"mark":{"type":"text","font":"Liberation Sans","fontSize":11,"color":"#666"},"encoding":{"y":{"field":"v","type":"quantitative","scale":{"domain":[-528,587],"nice":false,"zero":false},"axis":null},"text":{"field":"n","type":"nominal"}}},
{"data":{"name":"nm"},"transform":[{"filter":"datum.s==='AoIRX9L/10/14A'"}],"mark":{"type":"text","font":"Liberation Sans","fontSize":16,"color":"#222","align":"left"},"encoding":{"y":{"field":"v","type":"quantitative","scale":{"domain":[-528,587],"nice":false,"zero":false},"axis":null},"text":{"field":"s","type":"nominal"}}}
]},
{"layer":[
{"data":{"name":"tr"},"transform":[{"filter":"datum.s==='AoIRX9/10/14B'"}],"mark":{"type":"line","color":"#111","strokeWidth":2,"interpolate":"monotone"},"encoding":{"y":{"field":"v","type":"quantitative","scale":{"domain":[-410,705],"nice":false,"zero":false},"axis":null}}},
{"data":{"name":"pk"},"transform":[{"filter":"datum.s==='AoIRX9/10/14B'"}],"mark":{"type":"text","font":"Liberation Sans","fontSize":11,"color":"#666"},"encoding":{"y":{"field":"v","type":"quantitative","scale":{"domain":[-410,705],"nice":false,"zero":false},"axis":null},"text":{"field":"n","type":"nominal"}}},
{"data":{"name":"nm"},"transform":[{"filter":"datum.s==='AoIRX9/10/14B'"}],"mark":{"type":"text","font":"Liberation Sans","fontSize":16,"color":"#222","align":"left"},"encoding":{"y":{"field":"v","type":"quantitative","scale":{"domain":[-410,705],"nice":false,"zero":false},"axis":null},"text":{"field":"s","type":"nominal"}}}
]},
{"layer":[
{"data":{"name":"tr"},"transform":[{"filter":"datum.s==='AoIRX9/10/14A'"}],"mark":{"type":"line","color":"#111","strokeWidth":2,"interpolate":"monotone"},"encoding":{"y":{"field":"v","type":"quantitative","scale":{"domain":[-287,828],"nice":false,"zero":false},"axis":null}}},
{"data":{"name":"pk"},"transform":[{"filter":"datum.s==='AoIRX9/10/14A'"}],"mark":{"type":"text","font":"Liberation Sans","fontSize":11,"color":"#666"},"encoding":{"y":{"field":"v","type":"quantitative","scale":{"domain":[-287,828],"nice":false,"zero":false},"axis":null},"text":{"field":"n","type":"nominal"}}},
{"data":{"name":"nm"},"transform":[{"filter":"datum.s==='AoIRX9/10/14A'"}],"mark":{"type":"text","font":"Liberation Sans","fontSize":16,"color":"#222","align":"left"},"encoding":{"y":{"field":"v","type":"quantitative","scale":{"domain":[-287,828],"nice":false,"zero":false},"axis":null},"text":{"field":"s","type":"nominal"}}}
]},
{"layer":[
{"data":{"name":"tr"},"transform":[{"filter":"datum.s==='AoIRX9/9L/10/14A/14B'"}],"mark":{"type":"line","color":"#111","strokeWidth":2,"interpolate":"monotone"},"encoding":{"y":{"field":"v","type":"quantitative","scale":{"domain":[-142,973],"nice":false,"zero":false},"axis":null}}},
{"data":{"name":"pk"},"transform":[{"filter":"datum.s==='AoIRX9/9L/10/14A/14B'"}],"mark":{"type":"text","font":"Liberation Sans","fontSize":11,"color":"#666"},"encoding":{"y":{"field":"v","type":"quantitative","scale":{"domain":[-142,973],"nice":false,"zero":false},"axis":null},"text":{"field":"n","type":"nominal"}}},
{"data":{"name":"nm"},"transform":[{"filter":"datum.s==='AoIRX9/9L/10/14A/14B'"}],"mark":{"type":"text","font":"Liberation Sans","fontSize":16,"color":"#222","align":"left"},"encoding":{"y":{"field":"v","type":"quantitative","scale":{"domain":[-142,973],"nice":false,"zero":false},"axis":null},"text":{"field":"s","type":"nominal"}}}
]},
{"layer":[
{"data":{"name":"tr"},"transform":[{"filter":"datum.s==='AoIRX9/10/14A/VENUS'"}],"mark":{"type":"line","color":"#111","strokeWidth":2,"interpolate":"monotone"},"encoding":{"y":{"field":"v","type":"quantitative","scale":{"domain":[-14,1101],"nice":false,"zero":false},"axis":null}}},
{"data":{"name":"pk"},"transform":[{"filter":"datum.s==='AoIRX9/10/14A/VENUS'"}],"mark":{"type":"text","font":"Liberation Sans","fontSize":11,"color":"#666"},"encoding":{"y":{"field":"v","type":"quantitative","scale":{"domain":[-14,1101],"nice":false,"zero":false},"axis":null},"text":{"field":"n","type":"nominal"}}},
{"data":{"name":"nm"},"transform":[{"filter":"datum.s==='AoIRX9/10/14A/VENUS'"}],"mark":{"type":"text","font":"Liberation Sans","fontSize":16,"color":"#222","align":"left"},"encoding":{"y":{"field":"v","type":"quantitative","scale":{"domain":[-14,1101],"nice":false,"zero":false},"axis":null},"text":{"field":"s","type":"nominal"}}},
{"data":{"name":"brk"},"transform":[{"filter":"datum.c==='R'"}],"mark":{"type":"text","text":"//","font":"Liberation Sans","fontSize":15,"fontWeight":"bold","color":"#fff","stroke":"#fff","strokeWidth":5},"encoding":{"y":{"field":"v","type":"quantitative","scale":{"domain":[-14,1101],"nice":false,"zero":false},"axis":null}}},
{"data":{"name":"brk"},"transform":[{"filter":"datum.c==='R'"}],"mark":{"type":"text","text":"//","font":"Liberation Sans","fontSize":15,"fontWeight":"bold","color":"#000"},"encoding":{"y":{"field":"v","type":"quantitative","scale":{"domain":[-14,1101],"nice":false,"zero":false},"axis":null}}}
]}
]}
],
"spacing":52,
"title":{"text":"Elution time (min)","orient":"bottom","anchor":"end","frame":"bounds","dx":-183,"offset":-6,"font":"Lato","fontSize":18,"fontWeight":"normal","color":"#222"}
},
{"width":526,"height":197,
"title":{"text":"B","anchor":"start","frame":"group","dx":-100,"offset":-8,"fontSize":23,"fontWeight":"bold","font":"Liberation Sans","color":"#000"},
"data":{"name":"bars"},
"encoding":{"x":{"field":"cat","type":"nominal","sort":null,"scale":{"paddingInner":0.7,"paddingOuter":0.35},"axis":{"labelAngle":-45,"labelFont":"Lato","labelFontSize":14.5,"labelColor":"#333","ticks":false,"tickSize":0,"labelPadding":8,"domainWidth":3,"domainColor":"#000","title":null}}},
"layer":[
{"mark":{"type":"bar","color":"#000"},"encoding":{"y":{"field":"val","type":"quantitative","scale":{"domain":[0,250],"nice":false},"axis":{"values":[0,50,100,150,200,250],"labelFont":"Lato","labelFontSize":16.5,"labelColor":"#555","labelPadding":10,"tickSize":4,"tickWidth":2,"tickColor":"#000","domainWidth":3,"domainColor":"#000","domainCap":"square","grid":false,"title":["Specific activity","(pmol / min mg protein)"],"titleFont":"Lato","titleFontSize":16.5,"titleFontWeight":"bold","titleColor":"#222","titlePadding":15,"titleLineHeight":20}}}},
{"mark":{"type":"rule","color":"#000","strokeWidth":1},"encoding":{"y":{"field":"lo","type":"quantitative","axis":{"values":[0,50,100,150,200,250],"labelFont":"Lato","labelFontSize":16.5,"labelColor":"#555","labelPadding":10,"tickSize":4,"tickWidth":2,"tickColor":"#000","domainWidth":3,"domainColor":"#000","domainCap":"square","grid":false,"title":["Specific activity","(pmol / min mg protein)"],"titleFont":"Lato","titleFontSize":16.5,"titleFontWeight":"bold","titleColor":"#222","titlePadding":15,"titleLineHeight":20}},"y2":{"field":"hi"}}},
{"mark":{"type":"tick","color":"#000","thickness":1,"size":6},"encoding":{"y":{"field":"hi","type":"quantitative","axis":{"values":[0,50,100,150,200,250],"labelFont":"Lato","labelFontSize":16.5,"labelColor":"#555","labelPadding":10,"tickSize":4,"tickWidth":2,"tickColor":"#000","domainWidth":3,"domainColor":"#000","domainCap":"square","grid":false,"title":["Specific activity","(pmol / min mg protein)"],"titleFont":"Lato","titleFontSize":16.5,"titleFontWeight":"bold","titleColor":"#222","titlePadding":15,"titleLineHeight":20}}}}
]}
],
"spacing":-12
}
